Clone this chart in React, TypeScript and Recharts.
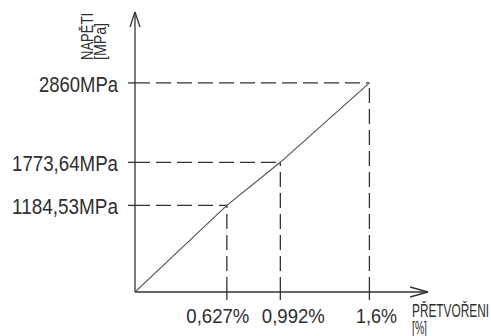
import React from 'react';
import { LineChart, Line, XAxis, YAxis, ReferenceLine } from 'recharts';

const strains = [0, 0.627, 0.992, 1.6];
const stresses = [0, 1184.53, 1773.64, 2860];
const xTicks = [0.627, 0.992, 1.6];
const xTickLabels = ['0,627%', '0,992%', '1,6%'];
const yTicks = [1184.53, 1773.64, 2860];
const yTickLabels = ['1184,53MPa', '1773,64MPa', '2860MPa'];
const xTitle = 'PŘETVOŘENI';
const xUnit = '[%]';
const yTitle = 'NAPĚTI';
const yUnit = '[MPa]';
const xMax = 2;
const yMax = 3830;

// label horizontal nudges (style only)
const xLabelShift = [-9, 13, 7];

const data = strains.map((x, i) => ({ x, y: stresses[i] }));

const FONT = '"Liberation Sans", "DejaVu Sans", sans-serif';
const TXT = '#2e2e2e';
const LINE = '#333';

// approximate CAD-font advance widths (px) for sizing labels
const charW: Record<string, number> = { ',': 5, M: 14, P: 11, a: 10, '%': 14 };
const textW = (s: string) => s.split('').reduce((acc, c) => acc + (charW[c] ?? 11), 0);

const XTick = (props: any) => {
  const { x, y, payload } = props;
  const i = xTicks.indexOf(payload.value);
  const label = i >= 0 ? xTickLabels[i] : '';
  const shift = i >= 0 ? xLabelShift[i] : 0;
  const w = textW(label);
  return (
    <text x={x + shift - w / 2} y={y} dy="0.71em" textAnchor="start" fontFamily={FONT} fontSize={21} fill={TXT} textLength={w} lengthAdjust="spacingAndGlyphs">
      {label}
    </text>
  );
};

const YTick = (props: any) => {
  const { x, y, payload } = props;
  const i = yTicks.indexOf(payload.value);
  const label = i >= 0 ? yTickLabels[i] : '';
  const w = textW(label);
  return (
    <text x={x - w} y={y} dy={9} textAnchor="start" fontFamily={FONT} fontSize={22} fill={TXT} textLength={w} lengthAdjust="spacingAndGlyphs">
      {label}
    </text>
  );
};

const YTitle = (props: any) => {
  const vb = props.viewBox || { x: 0, y: 12 };
  const a = vb.x + 93;
  const b = vb.x + 106;
  const yy = vb.y + 48;
  return (
    <g fontFamily={FONT} fontSize={16} fill={TXT}>
      <text x={a} y={yy} transform={`rotate(-90 ${a} ${yy})`} fill={TXT} textLength={47} lengthAdjust="spacingAndGlyphs">{yTitle}</text>
      <text x={b} y={yy} transform={`rotate(-90 ${b} ${yy})`} fill={TXT} textLength={37} lengthAdjust="spacingAndGlyphs">{yUnit}</text>
    </g>
  );
};

const XTitle = (props: any) => {
  const vb = props.viewBox || { x: 135, y: 292 };
  return (
    <g fontFamily={FONT} fontSize={18} fill={TXT}>
      <text x={vb.x + 277} y={vb.y + 25} fill={TXT} textLength={77} lengthAdjust="spacingAndGlyphs">{xTitle}</text>
      <text x={vb.x + 277} y={vb.y + 42} fill={TXT} textLength={15} lengthAdjust="spacingAndGlyphs">{xUnit}</text>
    </g>
  );
};

const dash = '15 6';

export default function App() {
  const axDx = (18 * xMax) / 293;
  const axDy = (5 * yMax) / 280;
  const ayDy = (15 * yMax) / 280;
  const ayDx = (5 * xMax) / 293;
  return (
    <div style={{ position: 'absolute', left: 0, top: 0, background: '#fff' }}>
      <LineChart width={491} height={336} data={data} margin={{ top: 12, right: 63, bottom: 0, left: 0 }}>
        <XAxis type="number" dataKey="x" domain={[0, xMax]} ticks={xTicks} height={44} tickSize={8} tickMargin={8}
          axisLine={{ stroke: LINE, strokeWidth: 1.3 }} tickLine={{ stroke: LINE, strokeWidth: 1.3 }}
          tick={<XTick />} interval={0} allowDataOverflow label={<XTitle />} />
        <YAxis type="number" domain={[0, yMax]} ticks={yTicks} width={135} tickSize={7} tickMargin={10}
          axisLine={{ stroke: LINE, strokeWidth: 1.3 }} tickLine={{ stroke: LINE, strokeWidth: 1.3 }}
          tick={<YTick />} interval={0} allowDataOverflow label={<YTitle />} />
        {xTicks.map((x, i) => (
          <ReferenceLine key={'v' + i} segment={[{ x, y: 0 }, { x, y: yTicks[i] }]} stroke={LINE} strokeWidth={1.3} strokeDasharray={dash} ifOverflow="visible" />
        ))}
        {yTicks.map((y, i) => (
          <ReferenceLine key={'h' + i} segment={[{ x: 0, y }, { x: xTicks[i], y }]} stroke={LINE} strokeWidth={1.3} strokeDasharray={dash} ifOverflow="visible" />
        ))}
        <ReferenceLine segment={[{ x: xMax - axDx, y: axDy }, { x: xMax, y: 0 }]} stroke={LINE} strokeWidth={1.3} ifOverflow="visible" />
        <ReferenceLine segment={[{ x: xMax - axDx, y: -axDy }, { x: xMax, y: 0 }]} stroke={LINE} strokeWidth={1.3} ifOverflow="visible" />
        <ReferenceLine segment={[{ x: -ayDx, y: yMax - ayDy }, { x: 0, y: yMax }]} stroke={LINE} strokeWidth={1.3} ifOverflow="visible" />
        <ReferenceLine segment={[{ x: ayDx, y: yMax - ayDy }, { x: 0, y: yMax }]} stroke={LINE} strokeWidth={1.3} ifOverflow="visible" />
        <Line type="linear" dataKey="y" stroke="#555" strokeWidth={1.2} dot={false} isAnimationActive={false} />
      </LineChart>
    </div>
  );
}
